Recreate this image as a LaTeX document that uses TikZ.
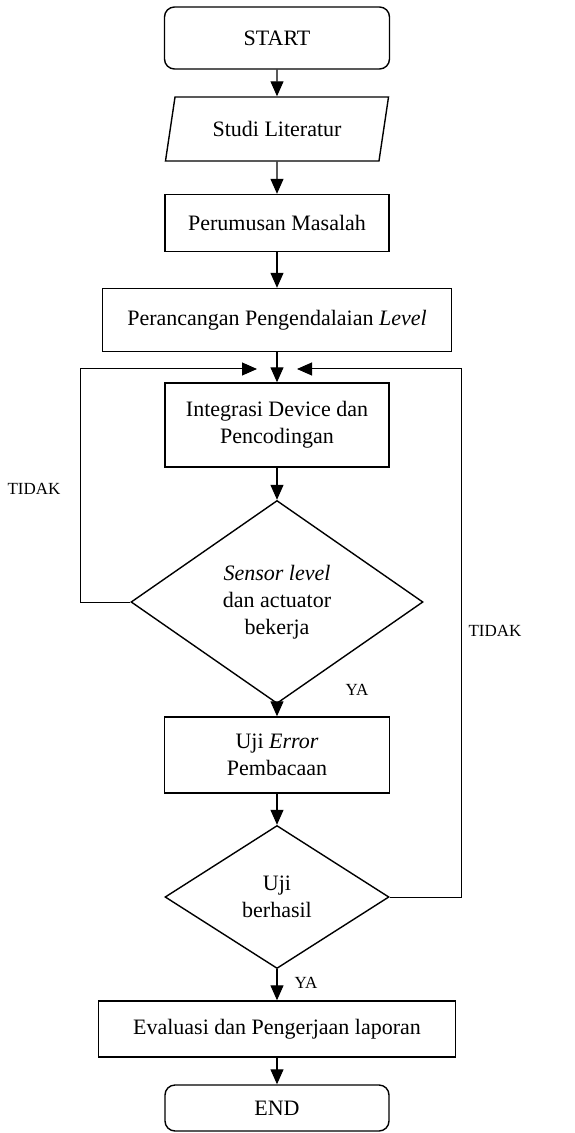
\documentclass[tikz,border=0pt]{standalone}
\usepackage{fontspec}
\setmainfont{Liberation Serif}
\usetikzlibrary{arrows.meta,shapes.geometric}
\tikzset{
  proses/.style={draw,line width=0.7pt,align=center,inner sep=2pt},
  terminal/.style={proses,rounded corners=5pt},
  masukan/.style={draw,line width=0.7pt,trapezium,trapezium left angle=77,
    trapezium right angle=103,trapezium stretches=true},
  keputusan/.style={draw,line width=0.7pt,diamond,inner sep=0pt,align=center},
  panah/.style={-{Triangle[length=7.5pt,width=6.5pt]},line width=0.6pt},
  balik/.style={panah,line width=0.5pt},
  jawab/.style={font=\fontsize{8.5}{10}\selectfont,inner sep=0pt}
}

\begin{document}
\begin{tikzpicture}[x=0.5pt,y=-0.5pt,
  every node/.append style={font=\fontsize{11}{13.5}\selectfont}]
  \useasboundingbox (0,0) rectangle (574,1133);
  % alur utama
  \node[terminal,minimum width=112.5pt,minimum height=31pt] (mulai) at (277,38) {START};
  \node[masukan,minimum width=112pt,minimum height=32pt] (studi) at (277,129) {Studi Literatur};
  \node[proses,minimum width=112pt,minimum height=28.5pt] (rumus) at (277,223) {Perumusan Masalah};
  \node[proses,minimum width=174.5pt,minimum height=31.5pt] (rancang) at (277,320)
    {Perancangan Pengendalaian \textit{Level}};
  \node[proses,minimum width=112pt,minimum height=42pt] (integrasi) at (277,425)
    {Integrasi Device dan\\Pencodingan};
  \node[keputusan,minimum width=146pt,minimum height=101.5pt] (cek) at (277,602)
    {\textit{Sensor level}\\dan actuator\\bekerja};
  \node[proses,minimum width=112.5pt,minimum height=38pt] (error) at (277,755)
    {Uji \textit{Error}\\Pembacaan};
  \node[keputusan,minimum width=112pt,minimum height=71.5pt] (uji) at (277,897)
    {Uji\\berhasil};
  \node[proses,minimum width=178.5pt,minimum height=28pt] (evaluasi) at (277,1029)
    {Evaluasi dan Pengerjaan laporan};
  \node[terminal,minimum width=112pt,minimum height=23pt] (selesai) at (277,1108) {END};
  % panah
  \draw[panah] (mulai) -- (studi);
  \draw[panah] (studi) -- (rumus);
  \draw[panah] (rumus) -- (rancang);
  \draw[panah] (rancang) -- (integrasi);
  \draw[panah] (integrasi) -- (cek);
  \draw[panah] (cek) -- (error);
  \draw[panah] (error) -- (uji);
  \draw[panah] (uji) -- (evaluasi);
  \draw[panah] (evaluasi) -- (selesai);
  % umpan balik
  \coordinate (kiri) at (80,602);
  \coordinate (kirimasuk) at (257,369);
  \coordinate (kanan) at (461,897);
  \coordinate (kananmasuk) at (297,369);
  \draw[balik] (cek.west) -- (kiri) |- (kirimasuk);
  \draw[balik] (uji.east) -- (kanan) |- (kananmasuk);
  % keterangan
  \node[jawab] (tidak1) at (34,489) {TIDAK};
  \node[jawab] (tidak2) at (495,631) {TIDAK};
  \node[jawab] (ya1) at (357,690) {YA};
  \node[jawab] (ya2) at (306,983) {YA};
\end{tikzpicture}
\end{document}
